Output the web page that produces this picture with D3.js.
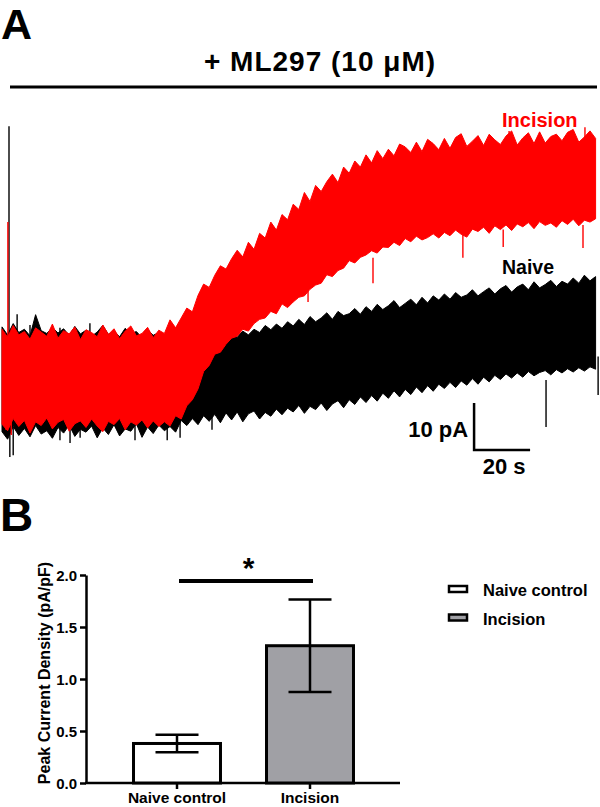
<!DOCTYPE html>
<html><head><meta charset="utf-8">
<script src="https://cdn.jsdelivr.net/npm/d3@7"></script>
<style>
body{margin:0;background:#fff}
svg{display:block;font-family:"Liberation Sans",Arial,Helvetica,sans-serif;font-weight:bold}
</style>
</head><body>
<svg id="c" width="600" height="807"></svg>
<script>
// ---------- Panel A data: whole-cell current traces (envelope of the noisy trace, pA) ----------
const timeS = [0,2,4,6,8,10,12,14,16,18,20,22,24,26,28,30,32,34,36,38,40,42,44,46,48,50,52,54,56,58,60,62,64,66,68,70,72,74,76,78,80,82,84,86,88,90,92,94,96,98,100,102,104,106,108,110,112,114,116,118,120,122,124,126,128,130,132,134,136,138,140,142,144,146,148,150,152,154,156,158,160,162,164,166,168,170,172,174,176,178,180,182,184,186,188,190,192,194,196,198,200,202,204,206,208,210,212];
const incisionUpper = [10.8,9.1,11.6,9.6,10.3,8.7,11.1,10.2,9.3,11.9,
 8.9,10.5,9.8,11.3,8.6,10.7,10.1,9.2,11.7,9.7,
 10.9,8.8,10.4,11.5,9.4,9.9,11.2,9.0,10.6,9.9,
 12.8,11.1,13.2,15.3,14.5,18.0,20.4,19.7,22.3,24.3,
 23.6,25.8,27.6,26.2,29.3,27.8,31.2,30.2,33.6,31.9,
 35.2,34.1,37.4,36.3,39.9,38.0,41.4,40.1,42.2,43.8,
 42.0,45.3,44.0,46.6,45.3,47.9,46.2,48.8,47.1,49.1,
 47.7,50.2,49.6,48.4,50.6,48.6,51.2,50.3,49.0,51.4,
 49.3,51.6,52.4,49.7,50.8,52.0,49.9,52.3,51.1,50.1,
 51.9,53.0,50.0,51.5,52.6,50.3,52.8,50.4,51.8,52.3,
 50.9,52.7,53.3,50.6,51.7,53.0,51.4];
const incisionLower = [-9.4,-10.8,-8.2,-9.9,-8.6,-11.3,-8.9,-9.7,-8.1,-10.4,
 -9.0,-8.4,-10.9,-9.3,-8.7,-10.1,-8.3,-9.8,-11.0,-8.8,
 -9.5,-8.2,-10.6,-8.9,-9.6,-8.5,-10.2,-8.7,-9.9,-8.9,
 -9.8,-7.6,-8.3,-5.5,-4.2,-1.9,1.8,3.1,5.5,5.9,
 7.6,8.9,9.3,10.8,10.4,12.0,12.9,13.2,14.6,14.1,
 16.2,15.4,16.6,17.6,17.9,19.3,20.2,20.6,22.4,22.0,
 23.3,23.8,25.4,24.9,26.1,26.6,27.5,27.0,28.3,28.2,
 29.3,28.6,30.1,29.4,30.6,29.8,30.3,31.1,30.2,31.4,
 30.7,31.9,31.0,30.4,32.1,31.6,32.5,31.2,32.8,32.0,
 33.0,31.8,33.2,32.6,33.5,32.2,33.7,32.9,33.4,32.5,
 33.9,33.1,34.2,32.8,34.0,33.6,34.3];
const naiveUpper = [11.3,9.6,12.0,10.1,10.8,9.4,13.9,10.5,9.9,11.2,
 10.0,10.9,9.5,11.4,9.8,10.6,9.3,10.2,11.6,9.7,
 10.4,9.2,11.0,9.9,10.3,9.0,10.7,9.5,10.1,8.8,
 8.6,9.2,8.1,8.8,7.9,8.5,7.7,8.4,8.0,8.9,
 8.3,9.5,9.1,10.4,9.6,10.8,10.1,11.6,10.7,11.9,
 11.0,12.4,11.5,12.9,11.8,13.5,12.4,13.2,14.3,12.9,
 14.6,13.7,14.1,15.2,14.0,15.6,14.6,16.1,15.0,15.8,
 16.9,15.4,16.3,17.2,16.0,17.6,16.4,17.9,17.0,18.3,
 17.2,18.6,17.6,18.1,19.2,17.9,18.8,19.6,18.3,19.4,
 20.1,18.7,19.8,20.4,19.2,20.9,19.6,20.3,21.2,19.9,
 21.0,20.4,21.7,20.6,22.3,21.1,22.0];
const naiveLower = [-11.0,-12.6,-9.9,-11.8,-10.3,-12.1,-9.7,-11.5,-10.8,-12.4,
 -10.1,-11.3,-9.6,-12.0,-10.5,-11.1,-9.8,-12.3,-10.2,-11.6,
 -9.5,-11.9,-10.4,-10.9,-9.3,-12.2,-10.0,-11.4,-9.6,-10.8,
 -9.9,-11.1,-8.6,-9.7,-8.2,-9.5,-7.6,-8.8,-7.3,-9.1,
 -7.0,-8.5,-6.8,-8.9,-7.2,-6.6,-8.3,-6.9,-7.7,-6.2,
 -7.4,-6.0,-6.8,-5.4,-7.1,-5.6,-6.3,-4.9,-6.5,-5.1,
 -4.4,-5.9,-4.2,-5.2,-3.6,-4.8,-3.3,-4.5,-2.8,-3.9,
 -2.3,-3.6,-2.0,-3.1,-1.5,-2.7,-1.2,-2.4,-0.9,-1.8,
 -0.5,-1.6,-0.2,-1.1,0.3,-0.9,0.6,-0.4,1.0,0.1,
 1.3,0.4,1.5,0.6,1.8,0.9,1.6,2.0,1.1,2.2,
 1.5,2.4,1.7,2.6,1.9,2.8,2.3];
// individual spikes: [time s, from pA, to pA]
const naiveSpikes = [[2.5,-10,54.0],[2.8,-10,-16.4],[4.0,-10,-16.0],[5.4,8,14.0],[10.0,8,11.7],[20.7,8,11.1],[31.4,8,12.1],
  [20.7,-9,-12.8],[24.3,-9,-13.4],[27.9,-9,-12.3],[47.5,-9,-12.8],[59.0,-9,-12.8],[63.6,-8,-12.3],[75.0,-7,-10.6],
  [194.3,0,-10.0],[212.9,5,-3.2]];
const incisionSpikes = [[2.1,0,33.6],[1.4,-8,-10.6],[3.3,-8,-11.7],[109.3,20,16.6],[132.5,26,20.6],[164.6,31,26.0],[179.0,32,28.3],[207.5,33,28.1],[181.1,50,53.0],[208.2,50,53.8]];
const traceNames = ["Incision","Naive"];
const traceColors = ["#ff0000","#000000"];
const titleText = "+ ML297 (10 μM)";
const scaleBarPA = 10, scaleBarS = 20;

// ---------- Panel B data ----------
const groups = ["Naive control","Incision"];
const meanDensity = [0.38,1.32];
const semDensity = [0.085,0.445];
const barFills = ["#ffffff","#a0a0a5"];
const yTicksB = [0,0.5,1.0,1.5,2.0];
const yLabelB = "Peak Current Density (pA/pF)";

const svg = d3.select("#c");

// ---------------- Panel A ----------------
svg.append("text").attr("x",1).attr("y",39).attr("font-size",43).text("A");
svg.append("text").attr("x",320).attr("y",71).attr("text-anchor","middle").attr("font-size",28).attr("letter-spacing",1).text(titleText);
svg.append("line").attr("x1",10).attr("x2",597).attr("y1",87).attr("y2",87).attr("stroke","#000").attr("stroke-width",3);

const xT = d3.scaleLinear().domain([0,213]).range([2,598.4]);
const yI = d3.scaleLinear().domain([0,10]).range([380,333]);

function drawTrace(upper, lower, spikes, color){
  const g = svg.append("g");
  const area = d3.area().x((d,i)=>xT(timeS[i])).y0((d,i)=>yI(lower[i])).y1((d,i)=>yI(upper[i]));
  g.append("path").datum(timeS).attr("d",area).attr("fill",color).attr("stroke",color).attr("stroke-width",1);
  g.selectAll("line.sp").data(spikes).join("line").attr("class","sp")
    .attr("x1",d=>xT(d[0])).attr("x2",d=>xT(d[0])).attr("y1",d=>yI(d[1])).attr("y2",d=>yI(d[2]))
    .attr("stroke",color).attr("stroke-width",1.4);
}
drawTrace(naiveUpper, naiveLower, naiveSpikes, traceColors[1]);
drawTrace(incisionUpper, incisionLower, incisionSpikes, traceColors[0]);

svg.append("text").attr("x",502).attr("y",127).attr("font-size",20).attr("fill",traceColors[0]).text(traceNames[0]);
svg.append("text").attr("x",502).attr("y",274).attr("font-size",19.5).attr("fill",traceColors[1]).text(traceNames[1]);

// scale bar
const sbT = 168.6, sbI = -14.9;
svg.append("path").attr("d",`M${xT(sbT)},${yI(sbI+scaleBarPA)}V${yI(sbI)}H${xT(sbT+scaleBarS)}`)
  .attr("stroke","#000").attr("stroke-width",2.5).attr("fill","none");
svg.append("text").attr("x",xT(sbT)-6).attr("y",437).attr("text-anchor","end").attr("font-size",22).text(scaleBarPA+" pA");
svg.append("text").attr("x",(xT(sbT)+xT(sbT+scaleBarS))/2+2).attr("y",474).attr("text-anchor","middle").attr("font-size",22).text(scaleBarS+" s");

// ---------------- Panel B ----------------
svg.append("text").attr("x",0).attr("y",531).attr("font-size",46).text("B");

const yB = d3.scaleLinear().domain([0,2]).range([783,575]);
const xB = d3.scaleBand().domain(groups).range([110.5,376.5]).paddingInner(0.346).paddingOuter(0.173);

const yAx = svg.append("g").attr("transform","translate(86,0)")
  .call(d3.axisLeft(yB).tickValues(yTicksB).tickFormat(d3.format(".1f")).tickSize(6).tickSizeOuter(0).tickPadding(3));
yAx.select(".domain").attr("stroke-width",2.5);
yAx.selectAll(".tick line").attr("stroke-width",2.5);
yAx.selectAll(".tick text").attr("font-size",15).attr("font-weight","bold").attr("font-family","'Liberation Sans',Arial,sans-serif").attr("fill","#000").attr("dy","0.36em");

const xAx = svg.append("g").attr("transform","translate(0,783)")
  .call(d3.axisBottom(xB).tickSize(6).tickSizeOuter(0).tickPadding(6));
xAx.select(".domain").remove();
xAx.selectAll(".tick line").attr("stroke-width",2.5);
xAx.selectAll(".tick text").attr("font-size",15.5).attr("font-weight","bold").attr("font-family","'Liberation Sans',Arial,sans-serif").attr("fill","#000").attr("y",20).attr("dy",0);
svg.append("line").attr("x1",85).attr("x2",400).attr("y1",783).attr("y2",783).attr("stroke","#000").attr("stroke-width",2.5);

svg.append("text").attr("transform",`translate(50,673) rotate(-90)`).attr("text-anchor","middle").attr("font-size",16).text(yLabelB);

// bars
svg.selectAll("rect.bar").data(groups).join("rect").attr("class","bar")
  .attr("x",d=>xB(d)).attr("width",xB.bandwidth())
  .attr("y",(d,i)=>yB(meanDensity[i])).attr("height",(d,i)=>yB(0)-yB(meanDensity[i]))
  .attr("fill",(d,i)=>barFills[i]).attr("stroke","#000").attr("stroke-width",3);

// error bars
const capW = 43;
groups.forEach((g,i)=>{
  const cx = xB(g)+xB.bandwidth()/2;
  const hi = yB(meanDensity[i]+semDensity[i]), lo = yB(meanDensity[i]-semDensity[i]);
  const e = svg.append("g").attr("stroke","#000").attr("stroke-width",2.5);
  e.append("line").attr("x1",cx).attr("x2",cx).attr("y1",hi).attr("y2",lo);
  e.append("line").attr("x1",cx-capW/2).attr("x2",cx+capW/2).attr("y1",hi).attr("y2",hi);
  e.append("line").attr("x1",cx-capW/2).attr("x2",cx+capW/2).attr("y1",lo).attr("y2",lo);
});

// significance
const c0 = xB(groups[0])+xB.bandwidth()/2, c1 = xB(groups[1])+xB.bandwidth()/2;
svg.append("line").attr("x1",c0+2).attr("x2",c1+3).attr("y1",581).attr("y2",581).attr("stroke","#000").attr("stroke-width",4);
svg.append("text").attr("x",(c0+c1)/2+5).attr("y",578).attr("text-anchor","middle").attr("font-size",30).text("*");

// legend
groups.forEach((g,i)=>{
  const y0 = 586 + i*28.5;
  svg.append("rect").attr("x",449).attr("y",y0).attr("width",18).attr("height",6)
    .attr("fill",barFills[i]).attr("stroke","#000").attr("stroke-width",2.5);
  svg.append("text").attr("x",483).attr("y",y0+10).attr("font-size",16.5).text(g);
});
</script>
</body></html>
